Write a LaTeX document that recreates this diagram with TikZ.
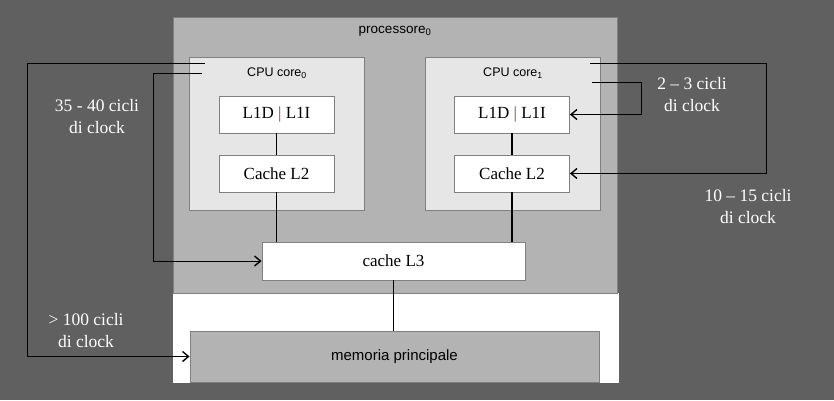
\documentclass[tikz,border=0pt]{standalone}
\usepackage{fontspec}
\setmainfont{Liberation Serif}
\setsansfont{Liberation Sans}
\usetikzlibrary{arrows.meta}
\definecolor{sfondo}{HTML}{606060}
\definecolor{grigio}{HTML}{B3B3B3}
\definecolor{chiaro}{HTML}{E6E6E6}
\definecolor{bordo}{HTML}{808080}
\definecolor{barra}{HTML}{8B3A3A}

\begin{document}
\begin{tikzpicture}[x=1pt, y=-1pt,
    cachebox/.style={draw=bordo, line width=0.8pt, fill=white, minimum width=115pt, minimum height=37pt, inner sep=0pt, font=\fontsize{17}{20}\selectfont},
    corebox/.style={draw=bordo, line width=0.8pt, fill=chiaro, minimum width=175pt, minimum height=153pt, inner sep=0pt},
    latenza/.style={text=white, align=center, font=\fontsize{17.5}{22}\selectfont},
    freccia/.style={-{Straight Barb[length=6pt, width=10pt, line width=1.4pt]}, line width=0.9pt}]
    \fill[sfondo] (0,0) rectangle (834,400);

    \node[fill=white, minimum width=446pt, minimum height=90pt, inner sep=0pt] (ram) at (396,338) {};
    \node[draw=bordo, line width=0.8pt, fill=grigio, minimum width=444pt, minimum height=276pt, inner sep=0pt] (proc) at (395,155) {};
    \node[font=\sffamily\fontsize{13.5}{16}\selectfont] (proclab) at (395,31) {processore\textsubscript{0}};

    \node[corebox] (core0) at (276.5,133.5) {};
    \node[corebox] (core1) at (512.5,133.5) {};
    \node[font=\sffamily\fontsize{12.5}{15}\selectfont] (core0lab) at (277,73) {CPU core\textsubscript{0}};
    \node[font=\sffamily\fontsize{12.5}{15}\selectfont] (core1lab) at (513,73) {CPU core\textsubscript{1}};

    \node[cachebox] (l1a) at (276.5,114.5) {L1D {\color{barra}|} L1I};
    \node[cachebox] (l2a) at (276.5,173.5) {Cache L2};
    \node[cachebox] (l1b) at (512,114.5) {L1D {\color{barra}|} L1I};
    \node[cachebox] (l2b) at (512,173.5) {Cache L2};
    \node[cachebox, minimum width=263pt, minimum height=38pt] (l3) at (393.5,261) {cache L3};
    \node[draw=bordo, line width=0.8pt, fill=grigio, minimum width=409pt, minimum height=51pt, inner sep=0pt, font=\sffamily\fontsize{15}{17}\selectfont] (mem) at (394.5,356.5) {memoria principale};

    % collegamenti tra i livelli
    \draw[line width=1.2pt] (l1a) -- (l2a);
    \draw[line width=1.2pt] (l1b) -- (l2b);
    \draw[line width=1.2pt] (l2a.south) -- (l2a.south |- l3.north);
    \draw[line width=1.2pt] (l2b.south) -- (l2b.south |- l3.north);
    \draw[line width=1.2pt] (l3.south) -- (l3.south |- mem.north);

    % latenze
    \coordinate (p1) at (205,63);
    \coordinate (k1) at (27,63);
    \coordinate (p2) at (202,73);
    \coordinate (k2) at (153,73);
    \coordinate (p3) at (590,63);
    \coordinate (k3) at (766,63);
    \coordinate (p4) at (592,82);
    \coordinate (k4) at (641,82);
    \draw[freccia] (p1) -- (k1) |- (mem.west);
    \draw[freccia] (p2) -- (k2) |- (l3.west);
    \draw[freccia] (p3) -- (k3) |- (l2b.east);
    \draw[freccia] (p4) -- (k4) |- (l1b.east);

    \node[latenza] (t1) at (97,117) {35 - 40 cicli\\di clock};
    \node[latenza] (t2) at (692,95) {2 -- 3 cicli\\di clock};
    \node[latenza] (t3) at (748,207) {10 -- 15 cicli\\di clock};
    \node[latenza] (t4) at (86,331) {> 100 cicli\\di clock};
\end{tikzpicture}
\end{document}
